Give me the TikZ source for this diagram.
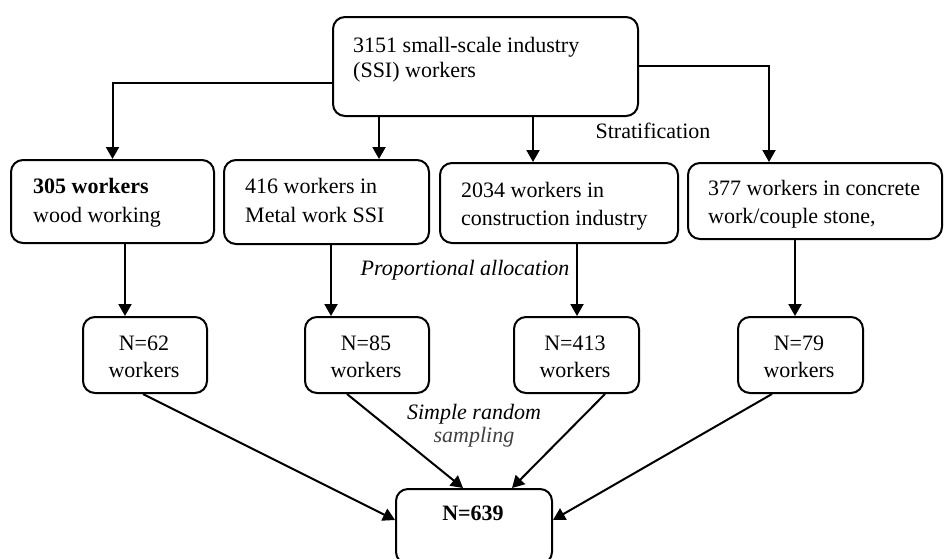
\documentclass[tikz,border=0pt]{standalone}
\usepackage{fontspec}
\setmainfont{Liberation Serif}
\usetikzlibrary{arrows.meta}
\begin{document}
\begin{tikzpicture}[x=1pt,y=-1pt,
  box/.style={draw, line width=2pt, rounded corners=12pt, inner sep=0pt, anchor=north west},
  txt/.style={inner sep=0pt, font=\fontsize{22}{25}\selectfont},
  arr/.style={line width=2pt, -{Triangle[length=12pt,width=13pt]}}]
\clip (0,0) rectangle (944,558);
\useasboundingbox (0,0) rectangle (944,558);
% boxes
\node[box, minimum width=305pt, minimum height=99pt] (top) at (332,16) {};
\node[box, minimum width=203pt, minimum height=83pt] (b1) at (10,159) {};
\node[box, minimum width=205pt, minimum height=84pt] (b2) at (223,159) {};
\node[box, minimum width=238pt, minimum height=80pt] (b3) at (439,162) {};
\node[box, minimum width=254pt, minimum height=76pt] (b4) at (687,162) {};
\node[box, minimum width=124pt, minimum height=76pt] (n1) at (82,316) {};
\node[box, minimum width=124pt, minimum height=76pt] (n2) at (304,316) {};
\node[box, minimum width=125pt, minimum height=76pt] (n3) at (513,316) {};
\node[box, minimum width=125pt, minimum height=76pt] (n4) at (737,316) {};
\node[box, minimum width=156pt, minimum height=75pt] (fin) at (395,488) {};
% texts
\node[txt, anchor=base west] (t0a) at (353,52) {3151 small-scale industry};
\node[txt, anchor=base west] (t0b) at (353,77) {(SSI) workers};
\node[txt, anchor=base west] (t1a) at (33,193) {\textbf{305 workers}};
\node[txt, anchor=base west] (t1b) at (33,222) {wood working};
\node[txt, anchor=base west] (t2a) at (245,193) {416 workers in};
\node[txt, anchor=base west] (t2b) at (245,222) {Metal work SSI};
\node[txt, anchor=base west] (t3a) at (461,197) {2034 workers in};
\node[txt, anchor=base west] (t3b) at (461,225) {construction industry};
\node[txt, anchor=base west] (t4a) at (708,195) {377 workers in concrete};
\node[txt, anchor=base west] (t4b) at (708,223) {work/couple stone,};
\node[txt, anchor=base] (m1a) at (144,350) {N=62};
\node[txt, anchor=base] (m1b) at (144,377) {workers};
\node[txt, anchor=base] (m2a) at (366,350) {N=85};
\node[txt, anchor=base] (m2b) at (366,377) {workers};
\node[txt, anchor=base] (m3a) at (575,350) {N=413};
\node[txt, anchor=base] (m3b) at (575,377) {workers};
\node[txt, anchor=base] (m4a) at (799,350) {N=79};
\node[txt, anchor=base] (m4b) at (799,377) {workers};
\node[txt, anchor=base] (fint) at (473,520) {\textbf{N=639}};
\node[txt, anchor=base] (strat) at (653,138) {Stratification};
\node[txt, anchor=base] (prop) at (465,275) {\itshape Proportional allocation};
\node[txt, anchor=base] (srs1) at (474,419) {\itshape Simple random};
\node[txt, anchor=base, text=black!75] (srs2) at (474,442) {\itshape sampling};
% connectors
\draw[arr] (top.west |- 0,83) -| (b1.north);
\draw[arr] (top.south -| 379,0) -- (b2.north -| 379,0);
\draw[arr] (top.south -| 533,0) -- (b3.north -| 533,0);
\draw[arr] (top.east |- 0,66) -| (b4.north -| 769,0);
\draw[arr] (b1.south -| 125,0) -- (n1.north -| 125,0);
\draw[arr] (b2.south -| 331,0) -- (n2.north -| 331,0);
\draw[arr] (b3.south -| 577,0) -- (n3.north -| 577,0);
\draw[arr] (b4.south -| 795,0) -- (n4.north -| 795,0);
\draw[arr] (n1.south -| 143,0) -- (fin.west |- 0,520);
\draw[arr] (n2.south -| 347,0) -- (fin.north -| 463,0);
\draw[arr] (n3.south -| 605,0) -- (fin.north -| 512,0);
\draw[arr] (n4.south -| 772,0) -- (fin.east |- 0,520);
\end{tikzpicture}
\end{document}
